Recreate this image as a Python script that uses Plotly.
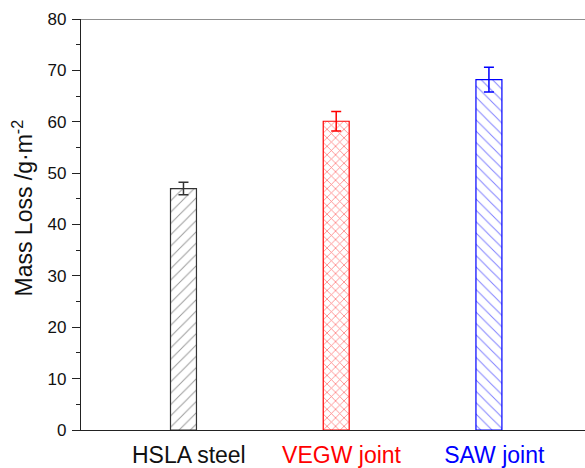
import plotly.graph_objects as go

categories = ["HSLA steel", "VEGW joint", "SAW joint"]
values = [47.0, 60.1, 68.2]
errors = [1.2, 1.9, 2.4]
colors = ["#333333", "#ff0000", "#0000ff"]
label_colors = ["#111111", "#ff0000", "#0000ff"]
patterns = ["/", "x", "\\"]
xpos = [0, 1, 2]

fig = go.Figure()
for i in range(3):
    is_x = patterns[i] == "x"
    fig.add_trace(go.Bar(
        x=[xpos[i]], y=[values[i]], width=0.17,
        marker=dict(color="white", line=dict(color=colors[i], width=1.2),
                    pattern=dict(shape=patterns[i], fgcolor=colors[i], bgcolor="white",
                                 size=6 if is_x else 8, solidity=0.25 if is_x else 0.12)),
        error_y=dict(type="data", array=[errors[i]], color=colors[i], thickness=1.5, width=5),
        showlegend=False,
    ))

ticktext = [f'<span style="color:{c}">{t}</span>' for t, c in zip(categories, label_colors)]

fig.update_layout(
    width=585, height=468,
    margin=dict(l=81, r=0, t=19, b=38),
    plot_bgcolor="white", paper_bgcolor="white",
    font=dict(family="Liberation Sans, Arial", color="#111111"),
    xaxis=dict(range=[-0.671, 2.629], tickvals=[x + 0.035 for x in xpos], ticktext=ticktext,
               showline=True, linecolor="#222222", linewidth=1.2, ticks="",
               showgrid=False, zeroline=False, tickfont=dict(size=23), ticklabelstandoff=4),
    yaxis=dict(range=[0, 80], dtick=10, showline=True, linecolor="#222222", linewidth=1.2,
               ticks="outside", ticklen=8, tickwidth=1.2, tickcolor="#222222",
               minor=dict(dtick=5, ticks="outside", ticklen=4, tickwidth=1.2, tickcolor="#222222"),
               showgrid=False, zeroline=False, tickfont=dict(size=17), ticklabelstandoff=2),
    shapes=[dict(type="line", xref="paper", yref="y", x0=0, x1=1, y0=80, y1=80,
                 line=dict(color="#222222", width=1.2))],
    annotations=[dict(text="Mass Loss /g·m<sup>-2</sup>", textangle=-90, showarrow=False,
                      xref="paper", yref="paper", x=(22 - 81) / 504, y=(430 - 208.5) / 411,
                      xanchor="center", yanchor="middle", font=dict(size=23, color="#111111"))],
)

fig.write_html("out.html")
